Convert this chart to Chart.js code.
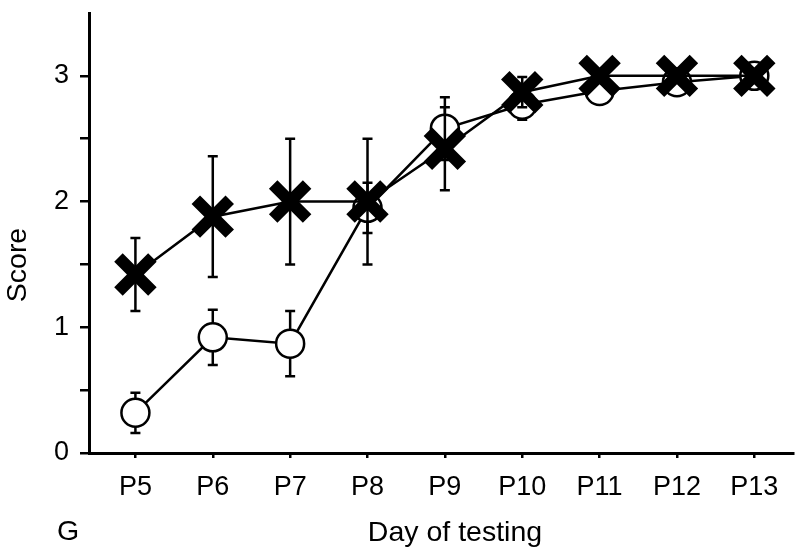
<!DOCTYPE html>
<html>
<head>
<meta charset="utf-8">
<script src="https://cdn.jsdelivr.net/npm/chart.js@4"></script>
<style>
  html, body { margin: 0; padding: 0; background: #fff; }
  #wrap { width: 800px; height: 558px; }
</style>
</head>
<body>
<div id="wrap"><canvas id="chart" width="800" height="558"></canvas></div>
<script>
// Day of testing (x categories)
const days = ['P5', 'P6', 'P7', 'P8', 'P9', 'P10', 'P11', 'P12', 'P13'];

// Group shown with bold X markers
const crossScore = [1.42, 1.88, 2.0, 2.0, 2.42, 2.87, 3.0, 3.0, 3.0];
const crossErr   = [0.29, 0.48, 0.5, 0.5, 0.33, 0.12, 0, 0, 0];

// Group shown with open circles
const circleScore = [0.32, 0.92, 0.87, 1.95, 2.58, 2.77, 2.88, 2.95, 3.0];
const circleErr   = [0.16, 0.22, 0.26, 0.2, 0.25, 0.12, 0, 0, 0];

const yTicks = [0, 0.5, 1, 1.5, 2, 2.5, 3];

const FONT = "'Liberation Sans', Arial, sans-serif";

// vertical error bars, drawn just under each dataset's own markers
const errorBars = {
  id: 'errorBars',
  beforeDatasetDraw(chart, args) {
    const ds = chart.data.datasets[args.index];
    if (!ds.errors) return;
    const ctx = chart.ctx;
    const y = chart.scales.y;
    ctx.save();
    ctx.strokeStyle = '#000';
    ctx.lineWidth = 2.5;
    args.meta.data.forEach((pt, i) => {
      const e = ds.errors[i];
      if (!e) return;
      const v = ds.data[i].y;
      const top = y.getPixelForValue(v + e);
      const bot = y.getPixelForValue(v - e);
      ctx.beginPath();
      ctx.moveTo(pt.x, top); ctx.lineTo(pt.x, bot);
      ctx.moveTo(pt.x - 5, top); ctx.lineTo(pt.x + 5, top);
      ctx.moveTo(pt.x - 5, bot); ctx.lineTo(pt.x + 5, bot);
      ctx.stroke();
    });
    ctx.restore();
  }
};

// axis titles and panel letter placed like the original figure
const labels = {
  id: 'labels',
  afterDraw(chart) {
    const ctx = chart.ctx;
    ctx.save();
    ctx.fillStyle = '#000';
    ctx.font = '28.5px ' + FONT;
    ctx.textAlign = 'center';
    ctx.textBaseline = 'alphabetic';
    ctx.fillText('Day of testing', 455, 541);
    ctx.textAlign = 'left';
    ctx.fillText('G', 57, 540);
    ctx.translate(26, 265);
    ctx.rotate(-Math.PI / 2);
    ctx.textAlign = 'center';
    ctx.fillText('Score', 0, 0);
    ctx.restore();
  }
};

new Chart(document.getElementById('chart'), {
  type: 'line',
  data: {
    datasets: [
      {
        label: 'X',
        data: crossScore.map((v, i) => ({ x: i, y: v })),
        errors: crossErr,
        borderColor: '#000',
        borderWidth: 2.5,
        pointStyle: 'crossRot',
        pointRadius: 24,
        pointBorderWidth: 12,
        pointBorderColor: '#000',
        pointBackgroundColor: '#000',
        tension: 0,
        clip: false
      },
      {
        label: 'O',
        data: circleScore.map((v, i) => ({ x: i, y: v })),
        errors: circleErr,
        borderColor: '#000',
        borderWidth: 2.5,
        pointStyle: 'circle',
        pointRadius: 14,
        pointBorderWidth: 2.5,
        pointBorderColor: '#000',
        pointBackgroundColor: '#fff',
        tension: 0,
        clip: false
      }
    ]
  },
  options: {
    responsive: false,
    animation: false,
    layout: { autoPadding: false, padding: { top: 13, right: 7, left: 0, bottom: 0 } },
    plugins: { legend: { display: false }, tooltip: { enabled: false } },
    scales: {
      x: {
        type: 'linear',
        min: -0.6,
        max: 8.5,
        afterBuildTicks: (s) => { s.ticks = days.map((d, i) => ({ value: i })); },
        afterFit: (s) => { s.height = 105; s.paddingLeft = 0; s.paddingRight = 0; },
        ticks: {
          callback: (v) => days[v],
          color: '#000',
          font: { family: FONT, size: 27 },
          padding: 13,
          maxRotation: 0,
          autoSkip: false
        },
        grid: { drawOnChartArea: false, tickLength: 5, color: '#000', lineWidth: 2.5 },
        border: { display: true, color: '#000', width: 3 }
      },
      y: {
        min: 0,
        max: 3.5,
        afterBuildTicks: (s) => { s.ticks = yTicks.map((v) => ({ value: v })); },
        afterFit: (s) => { s.width = 89; s.paddingTop = 0; s.paddingBottom = 0; },
        ticks: {
          callback: (v) => (Number.isInteger(v) ? String(v) : ''),
          color: '#000',
          font: { family: FONT, size: 27 },
          padding: 11,
          autoSkip: false
        },
        grid: { drawOnChartArea: false, tickLength: 9, color: '#000', lineWidth: 2.5 },
        border: { display: true, color: '#000', width: 3 }
      }
    }
  },
  plugins: [errorBars, labels]
});
</script>
</body>
</html>
